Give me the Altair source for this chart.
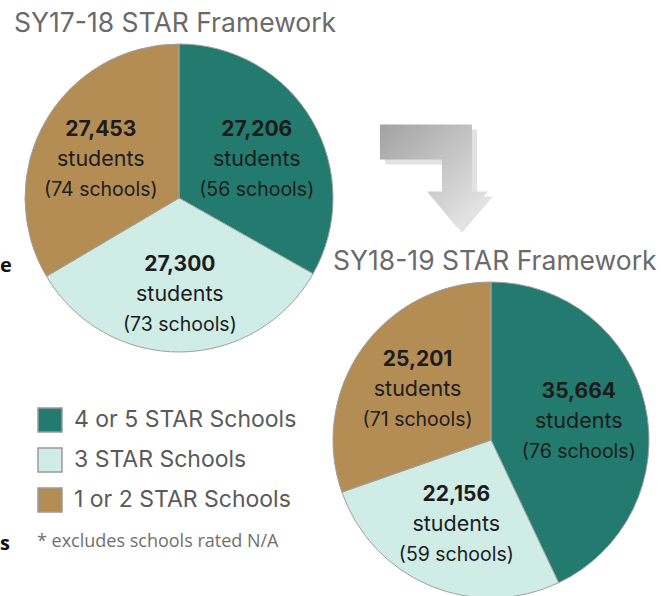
import altair as alt
import pandas as pd

# ---- data ----
categories = ["4 or 5 STAR Schools", "3 STAR Schools", "1 or 2 STAR Schools"]
colors = ["#237a6e", "#cfece7", "#b48d55"]
students_1718 = [27206, 27300, 27453]
schools_1718 = [56, 73, 74]
students_1819 = [35664, 22156, 25201]
schools_1819 = [76, 59, 71]
title_1718 = "SY17-18 STAR Framework"
title_1819 = "SY18-19 STAR Framework"
footnote = "* excludes schools rated N/A"


def make_df(students, schools):
    return pd.DataFrame({
        "category": categories,
        "students": students,
        "order": list(range(len(categories))),
        "num_label": [f"{s:,}" for s in students],
        "stu_label": ["students"] * len(categories),
        "sch_label": [f"({n} schools)" for n in schools],
    })


df1 = make_df(students_1718, schools_1718)
df2 = make_df(students_1819, schools_1819)

color_scale = alt.Scale(domain=categories, range=colors)
LABEL_FONT = "Inter"
TEXT_FONT = "Inter"


def pie(df, cx, cy, r, lr, shift=0):
    theta = alt.Theta("students:Q", stack=True)
    order = alt.Order("order:O")
    arc = alt.Chart(df).mark_arc(radius=r, stroke="#a0a0a0", strokeWidth=1).encode(
        theta=theta, order=order,
        color=alt.Color("category:N", scale=color_scale, title=None),
        x=alt.value(cx), y=alt.value(cy),
    )
    common = dict(radius=lr, font=LABEL_FONT, color="#1c1c1c")
    t1 = alt.Chart(df).mark_text(dy=-30 + shift, fontSize=21, fontWeight="bold", **common).encode(
        theta=theta, order=order, detail="category:N", text="num_label:N",
        x=alt.value(cx), y=alt.value(cy))
    t2 = alt.Chart(df).mark_text(dy=0 + shift, fontSize=21.5, **common).encode(
        theta=theta, order=order, detail="category:N", text="stu_label:N",
        x=alt.value(cx), y=alt.value(cy))
    t3 = alt.Chart(df).mark_text(dy=30 + shift, fontSize=19.5, **common).encode(
        theta=theta, order=order, detail="category:N", text="sch_label:N",
        x=alt.value(cx), y=alt.value(cy))
    return alt.layer(arc, t1, t2, t3)


one = pd.DataFrame({"k": [0]})


def label(text, x, y, size, color, font=TEXT_FONT, weight="normal", align="left"):
    return alt.Chart(one).mark_text(
        text=text, align=align, baseline="alphabetic", font=font,
        fontSize=size, color=color, fontWeight=weight,
    ).encode(x=alt.value(x), y=alt.value(y))


arrow_path = ("M-0.982,-0.936 L0.691,-0.936 L0.691,0.282 L0.982,0.282 "
              "L0.418,0.936 L-0.127,0.282 L0.145,0.282 L0.145,-0.3 L-0.982,-0.3 Z")
arrow_shadow = alt.Chart(one).mark_point(
    shape=arrow_path, size=12100, filled=True, fill="#e2e2e2", strokeWidth=0, opacity=1
).encode(x=alt.value(439), y=alt.value(181))
arrow = alt.Chart(one).mark_point(
    shape=arrow_path, size=12100, filled=True, strokeWidth=0, opacity=1,
    fill=alt.LinearGradient(
        gradient="linear",
        stops=[alt.GradientStop(color="#a2a2a2", offset=0),
               alt.GradientStop(color="#ececec", offset=1)],
        x1=0, y1=0, x2=1, y2=1,
    ),
).encode(x=alt.value(434), y=alt.value(176))

chart = alt.layer(
    pie(df1, 179, 198, 154, 90, shift=7),
    pie(df2, 491, 440, 158, 90, shift=2),
    arrow_shadow,
    arrow,
    label(title_1718, 14, 32, 26.5, "#6a6a6a"),
    label(title_1819, 333, 270, 26.5, "#6a6a6a"),
    label(footnote, 37, 547, 18, "#6f6f6f", font="Open Sans"),
    label("e", 0, 272, 20, "#111111", font="Open Sans", weight="bold"),
    label("s", 0, 550, 20, "#111111", font="Open Sans", weight="bold"),
).resolve_scale(theta="independent").properties(
    width=666, height=596, padding=0,
    autosize=alt.AutoSizeParams(type="none"),
).configure_view(stroke=None).configure_legend(
    orient="none", legendX=37, legendY=407, padding=0,
    symbolType="square", symbolSize=576, symbolStrokeColor="#9a9a9a",
    symbolStrokeWidth=1.5, symbolOpacity=1,
    labelFont=TEXT_FONT, labelFontSize=23, labelColor="#5a5a5a",
    labelOffset=11, rowPadding=10, labelLimit=400,
)

chart.save("out.html", embed_options={"renderer": "svg", "actions": False})
